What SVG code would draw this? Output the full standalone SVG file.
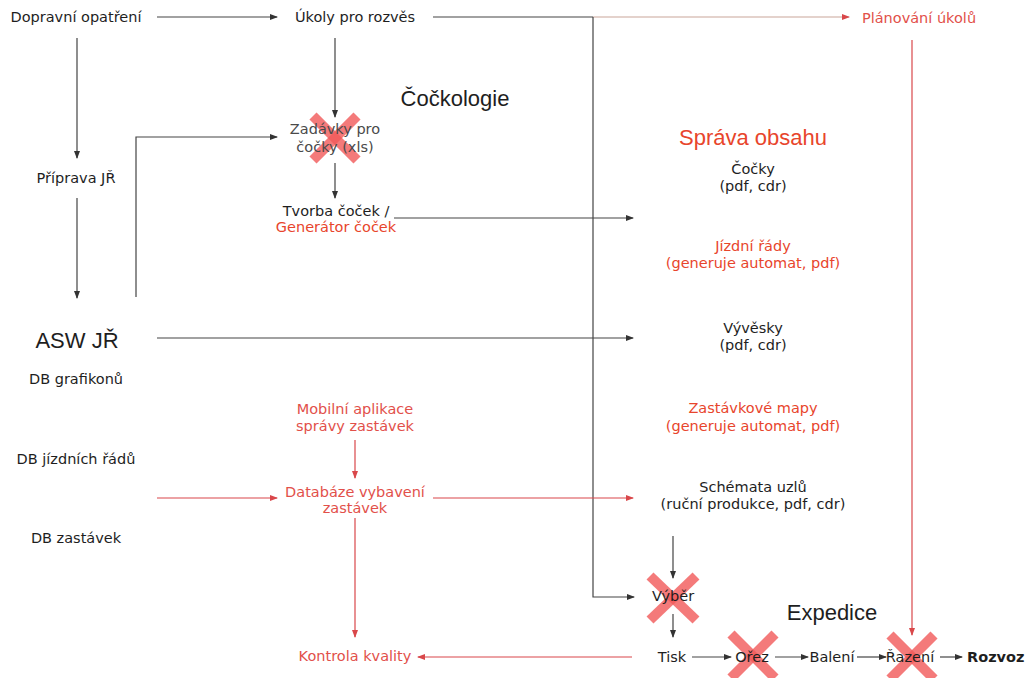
<svg xmlns="http://www.w3.org/2000/svg" width="1027" height="678" viewBox="0 0 1027 678">
<style>
  text { font-family: "DejaVu Sans", Verdana, sans-serif; font-size: 14.5px; fill: #1e1e1e; text-anchor: middle; }
  .red { fill: #e8452c; }
  .redl { fill: #e2504a; }
  .gray { fill: #4a4a4a; }
  .head { font-family: "Liberation Sans", Arial, sans-serif; font-size: 22px; }
  .bold { font-weight: bold; text-anchor: start; }
  .ln { stroke: #444; stroke-width: 1.2; fill: none; }
  .lnr { stroke: #d9474a; stroke-width: 1.2; fill: none; }
  .lnb { stroke: #c9a69a; stroke-width: 1.2; fill: none; }
  .x { stroke: #f25a5a; stroke-width: 10; opacity: 0.8; }
</style>
<defs>
  <marker id="ah" markerWidth="8" markerHeight="6" refX="7" refY="3" orient="auto" markerUnits="userSpaceOnUse">
    <path d="M0,0 L8,3 L0,6 Z" fill="#333"/>
  </marker>
  <marker id="ahr" markerWidth="8" markerHeight="6" refX="7" refY="3" orient="auto" markerUnits="userSpaceOnUse">
    <path d="M0,0 L8,3 L0,6 Z" fill="#d9474a"/>
  </marker>
</defs>
<rect width="1027" height="678" fill="#fff"/>

<g id="connectors">
  <line class="ln" x1="157" y1="17" x2="277" y2="17" marker-end="url(#ah)"/>
  <line class="ln" x1="433" y1="17" x2="593" y2="17"/>
  <line class="lnb" x1="593" y1="17" x2="849" y2="17" marker-end="url(#ahr)"/>
  <polyline class="ln" points="593,17 593,597 634,597" marker-end="url(#ah)"/>
  <line class="ln" x1="335" y1="38" x2="335" y2="117" marker-end="url(#ah)"/>
  <line class="ln" x1="335" y1="163" x2="335" y2="198" marker-end="url(#ah)"/>
  <line class="ln" x1="77" y1="38" x2="77" y2="158" marker-end="url(#ah)"/>
  <line class="ln" x1="77" y1="198" x2="77" y2="298" marker-end="url(#ah)"/>
  <polyline class="ln" points="136,297 136,137 277,137" marker-end="url(#ah)"/>
  <line class="ln" x1="394" y1="218" x2="633" y2="218" marker-end="url(#ah)"/>
  <line class="ln" x1="157" y1="338" x2="633" y2="338" marker-end="url(#ah)"/>
  <line class="lnr" x1="157" y1="498" x2="277" y2="498" marker-end="url(#ahr)"/>
  <line class="lnr" x1="433" y1="498" x2="633" y2="498" marker-end="url(#ahr)"/>
  <line class="lnr" x1="355" y1="440" x2="355" y2="478" marker-end="url(#ahr)"/>
  <line class="lnr" x1="355" y1="518" x2="355" y2="637" marker-end="url(#ahr)"/>
  <line class="lnr" x1="632" y1="657" x2="418" y2="657" marker-end="url(#ahr)"/>
  <line class="ln" x1="673" y1="536" x2="673" y2="578" marker-end="url(#ah)"/>
  <line class="ln" x1="673" y1="614" x2="673" y2="637" marker-end="url(#ah)"/>
  <line class="lnr" x1="912" y1="40" x2="912" y2="635" marker-end="url(#ahr)"/>
  <line class="ln" x1="692" y1="657" x2="731" y2="657" marker-end="url(#ah)"/>
  <line class="ln" x1="775" y1="657" x2="808" y2="657" marker-end="url(#ah)"/>
  <line class="ln" x1="857" y1="657" x2="886" y2="657" marker-end="url(#ah)"/>
  <line class="ln" x1="940" y1="657" x2="962" y2="657" marker-end="url(#ah)"/>
</g>

<g id="n-dopravni"><text x="76" y="22">Dopravní opatření</text></g>
<g id="n-ukoly"><text x="355" y="22">Úkoly pro rozvěs</text></g>
<g id="n-planovani"><text class="redl" x="919" y="23">Plánování úkolů</text></g>
<g id="n-cockologie"><text class="head" x="455" y="106">Čočkologie</text></g>
<g id="n-zadavky">
  <line class="x" x1="313" y1="116" x2="357" y2="160"/>
  <line class="x" x1="357" y1="116" x2="313" y2="160"/>
  <text class="gray" x="335" y="134">Zadávky pro</text>
  <text class="gray" x="335" y="152">čočky (xls)</text>
</g>
<g id="n-priprava"><text x="76" y="183">Příprava JŘ</text></g>
<g id="n-tvorba">
  <text x="336" y="216">Tvorba čoček /</text>
  <text class="red" x="336" y="232">Generátor čoček</text>
</g>
<g id="n-sprava"><text class="head red" x="753" y="145">Správa obsahu</text></g>
<g id="n-cocky">
  <text x="753" y="174">Čočky</text>
  <text x="753" y="191">(pdf, cdr)</text>
</g>
<g id="n-jizdni">
  <text class="red" x="753" y="251">Jízdní řády</text>
  <text class="red" x="753" y="268">(generuje automat, pdf)</text>
</g>
<g id="n-vyvesky">
  <text x="753" y="333">Vývěsky</text>
  <text x="753" y="350">(pdf, cdr)</text>
</g>
<g id="n-mapy">
  <text class="red" x="753" y="413">Zastávkové mapy</text>
  <text class="red" x="753" y="431">(generuje automat, pdf)</text>
</g>
<g id="n-schemata">
  <text x="753" y="492">Schémata uzlů</text>
  <text x="753" y="509">(ruční produkce, pdf, cdr)</text>
</g>
<g id="n-asw">
  <text class="head" x="77" y="348">ASW JŘ</text>
  <text x="76" y="384">DB grafikonů</text>
  <text x="76" y="464">DB jízdních řádů</text>
  <text x="76" y="543">DB zastávek</text>
</g>
<g id="n-mobilni">
  <text class="redl" x="355" y="414">Mobilní aplikace</text>
  <text class="redl" x="355" y="431">správy zastávek</text>
</g>
<g id="n-databaze">
  <text class="redl" x="355" y="497">Databáze vybavení</text>
  <text class="redl" x="355" y="513">zastávek</text>
</g>
<g id="n-kontrola"><text class="redl" x="355" y="661">Kontrola kvality</text></g>
<g id="n-vyber">
  <line class="x" x1="650" y1="576" x2="696" y2="620"/>
  <line class="x" x1="696" y1="576" x2="650" y2="620"/>
  <text x="673" y="601">Výběr</text>
</g>
<g id="n-expedice"><text class="head" x="832" y="620">Expedice</text></g>
<g id="n-tisk"><text x="672" y="662">Tisk</text></g>
<g id="n-orez">
  <line class="x" x1="731" y1="634" x2="775" y2="678"/>
  <line class="x" x1="775" y1="634" x2="731" y2="678"/>
  <text x="752" y="662">Ořez</text>
</g>
<g id="n-baleni"><text x="832" y="662">Balení</text></g>
<g id="n-razeni">
  <line class="x" x1="890" y1="635" x2="934" y2="679"/>
  <line class="x" x1="934" y1="635" x2="890" y2="679"/>
  <text x="910" y="662">Řazení</text>
</g>
<g id="n-rozvoz"><text class="bold" x="967" y="662">Rozvoz</text></g>
</svg>
